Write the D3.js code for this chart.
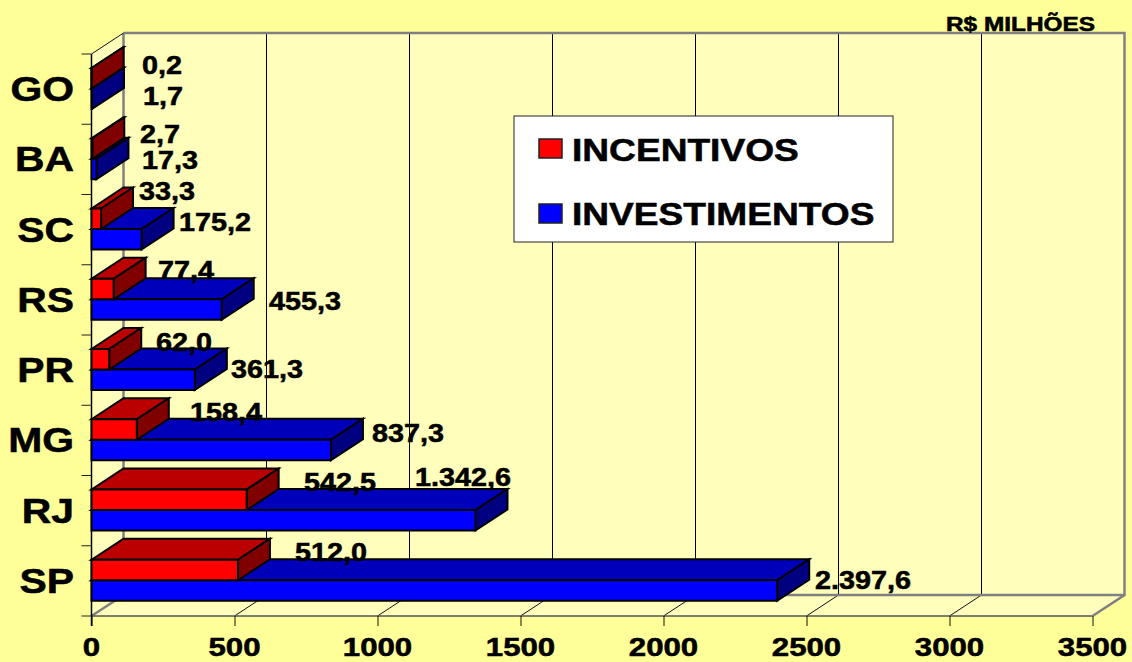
<!DOCTYPE html>
<html><head><meta charset="utf-8">
<script src="https://cdn.jsdelivr.net/npm/d3@7"></script>
<style>html,body{margin:0;padding:0;background:#FFFF99}svg{display:block}text{font-family:"Liberation Sans",Arial,sans-serif;font-weight:bold;fill:#000;stroke:#000;stroke-width:.55px}</style>
</head><body><svg id="c" width="1132" height="662"></svg>
<script>
const categories=["GO","BA","SC","RS","PR","MG","RJ","SP"];
const incentivos=[0.2,2.7,33.3,77.4,62.0,158.4,542.5,512.0];
const investimentos=[1.7,17.3,175.2,455.3,361.3,837.3,1342.6,2397.6];
const incentivosLabels=["0,2","2,7","33,3","77,4","62,0","158,4","542,5","512,0"];
const investimentosLabels=["1,7","17,3","175,2","455,3","361,3","837,3","1.342,6","2.397,6"];
const xTicks=[0,500,1000,1500,2000,2500,3000,3500];
const legendNames=["INCENTIVOS","INVESTIMENTOS"];
// label anchor points as drawn in the reference (layout, not data)
const incLabelPos=[[142,74],[140,143],[139,200],[158,279],[156,351],[190,421],[304,491],[295,561]];
const invLabelPos=[[143,105],[142,169],[179,231],[269,310],[231,378],[372,442],[415,486],[815,589]];

const DX=32,DY=-21;
const x=d3.scaleLinear().domain([0,3500]).range([91.5,1092.5]);
const y=d3.scaleBand().domain(categories).range([54,616]);
const svg=d3.select("#c");
const WALL="#FFFFBB",GRAY="#808080";
const poly=(g,p,fill,stroke,w)=>g.append("polygon").attr("points",p.map(q=>q.join(",")).join(" ")).attr("fill",fill).attr("stroke",stroke).attr("stroke-width",w).attr("stroke-linejoin","miter");
const txt=(s,px,py,size,sx,anchor)=>svg.append("text").attr("transform",`translate(${px},${py}) scale(${sx},1)`).attr("font-size",size).attr("text-anchor",anchor||"start").text(s);

const x0=x(0),x1=x(3500),yT=y.range()[0],yB=y.range()[1];
// walls
poly(svg,[[x0,yT],[x0+DX,yT+DY],[x0+DX,yB+DY],[x0,yB]],WALL,"none",0);
poly(svg,[[x0+DX,yT+DY],[x1+DX,yT+DY],[x1+DX,yB+DY],[x0+DX,yB+DY]],WALL,"none",0);
poly(svg,[[x0,yB],[x0+DX,yB+DY],[x1+DX,yB+DY],[x1,yB]],WALL,"none",0);
// gridlines
xTicks.forEach(t=>{
  if(t>0&&t<3500){
    const gx=Math.floor(x(t)+DX)+.5;
    svg.append("line").attr("x1",gx).attr("x2",gx).attr("y1",yT+DY).attr("y2",yB+DY).attr("stroke","#000").attr("stroke-width",1);
    svg.append("line").attr("x1",x(t)).attr("x2",gx).attr("y1",yB).attr("y2",yB+DY).attr("stroke","#111").attr("stroke-width",1);
  }
});
// wall borders
svg.append("path").attr("d",`M${x0},${yB}L${x0+DX},${yB+DY}V${yT+DY}M${x0+DX},${yT+DY}H${x1+DX}V${yB+DY}L${x1},${yB}M${x0+DX},${yB+DY}H${x1+DX}`).attr("fill","none").attr("stroke",GRAY).attr("stroke-width",2.5);
svg.append("path").attr("d",`M${x0},${yT}L${x0+DX},${yT+DY}`).attr("stroke","#111").attr("stroke-width",1);
svg.append("line").attr("x1",x0).attr("x2",x1).attr("y1",yB).attr("y2",yB).attr("stroke","#555").attr("stroke-width",1.5);
// axes
const ax=svg.append("g").attr("transform",`translate(0,${yB})`).call(d3.axisBottom(x).tickValues(xTicks).tickSize(10).tickFormat(""));
ax.select(".domain").remove();ax.selectAll("line").attr("stroke","#111");
svg.append("line").attr("x1",x0).attr("x2",x0).attr("y1",yT).attr("y2",yB+10).attr("stroke","#000").attr("stroke-width",1.5);
[...categories.map(c=>y(c)),yB].forEach(v=>svg.append("line").attr("x1",x0-10).attr("x2",x0).attr("y1",v).attr("y2",v).attr("stroke","#222"));

// bars
const barH=20.5,barTop=14;
function bar(v,py,front,top,side){
  const a=x0,b=x(v);
  poly(svg,[[a,py],[a+DX,py+DY],[b+DX,py+DY],[b,py]],top,"#000",2);
  poly(svg,[[b,py],[b+DX,py+DY],[b+DX,py+DY+barH],[b,py+barH]],side,"#000",2);
  poly(svg,[[a,py],[b,py],[b,py+barH],[a,py+barH]],front,"#000",2);
}
categories.forEach((c,i)=>{
  const p=y(c)+barTop;
  bar(investimentos[i],p+barH,"#0000FF","#0000BB","#000080");
  bar(incentivos[i],p,"#FF0000","#BB0000","#800000");
});
// value labels
categories.forEach((c,i)=>{
  txt(incentivosLabels[i],incLabelPos[i][0],incLabelPos[i][1],25,1.15);
  txt(investimentosLabels[i],invLabelPos[i][0],invLabelPos[i][1],25,1.15);
  txt(c,74,y(c)+y.bandwidth()/2+12,35.5,1.15,"end");
});
xTicks.forEach(t=>txt(String(t),x(t),656,26,1.2,"middle"));
txt("R$ MILHÕES",946,31,20,1.22);
// legend
svg.append("rect").attr("x",514).attr("y",116).attr("width",379).attr("height",126).attr("fill","#fff").attr("stroke","#222").attr("stroke-width",1);
legendNames.forEach((n,i)=>{
  const ly=139+i*65;
  svg.append("rect").attr("x",539).attr("y",ly).attr("width",23).attr("height",19).attr("fill",i?"#0000FF":"#FF0000").attr("stroke","#222").attr("stroke-width",1.5);
  txt(n,572,ly+22-i,32,1.16);
});
</script></body></html>
